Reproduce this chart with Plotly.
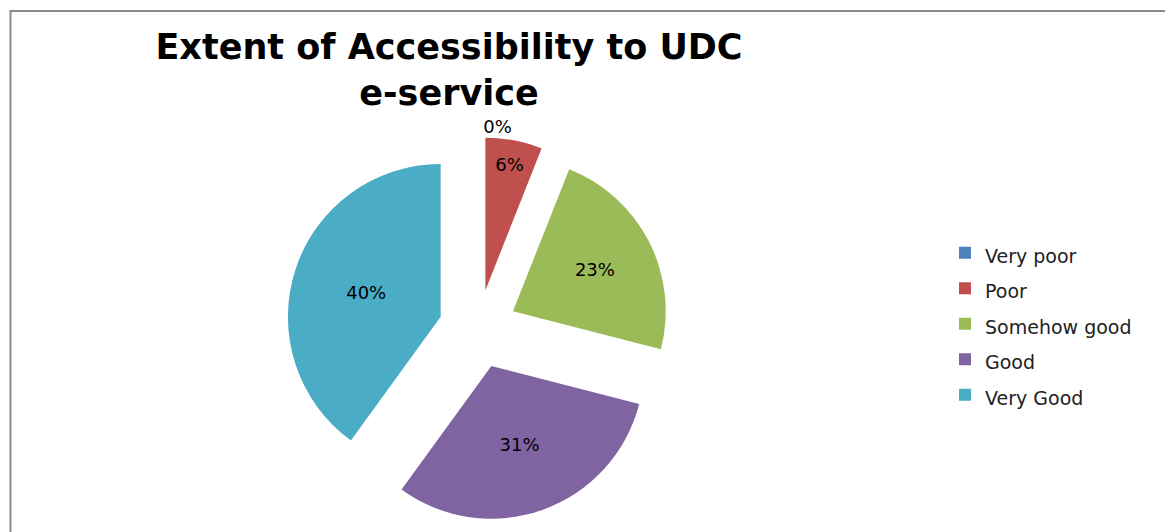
import plotly.graph_objects as go

categories = ["Very poor", "Poor", "Somehow good", "Good", "Very Good"]
percent_values = [0, 6, 23, 31, 40]
colors = ["#4F81BD", "#C0504D", "#9BBB59", "#8064A2", "#4BACC6"]
title_text = "Extent of Accessibility to UDC<br>e-service"

W, H = 1165, 532

# legend entries: slightly smaller text inside a taller legend row
legend_labels = ['<span style="font-size:19px">%s</span>' % c for c in categories]

fig = go.Figure()
fig.add_trace(go.Pie(
    labels=legend_labels,
    values=percent_values,
    marker=dict(colors=colors, line=dict(width=0)),
    sort=False,
    direction="clockwise",
    rotation=0,
    pull=[0.257] * len(categories),
    textinfo="percent",
    textposition="auto",
    insidetextfont=dict(color="black", size=18, family="DejaVu Sans"),
    outsidetextfont=dict(color="black", size=18, family="DejaVu Sans"),
    insidetextorientation="horizontal",
    domain=dict(x=[286 / W, 670 / W], y=[1 - 521 / H, 1 - 137 / H]),
    showlegend=True,
    hoverinfo="percent",
))

fig.update_layout(
    width=W, height=H,
    margin=dict(l=0, r=0, t=0, b=0, autoexpand=False),
    paper_bgcolor="white",
    plot_bgcolor="white",
    font=dict(family="DejaVu Sans", color="black"),
    title=dict(
        text=title_text,
        font=dict(family="DejaVu Sans", size=35, color="black", weight="bold"),
        x=449 / W, xanchor="center", xref="paper",
        y=1 - 59 / H, yanchor="top", yref="container",
    ),
    legend=dict(
        x=945 / W, xanchor="left", xref="paper",
        y=1 - 230 / H, yanchor="top", yref="paper",
        font=dict(family="DejaVu Sans", size=25, color="#222"),
        bgcolor="rgba(0,0,0,0)",
    ),
    shapes=[dict(
        type="rect", xref="paper", yref="paper",
        x0=10.5 / W, x1=1.02, y0=-0.02, y1=1 - 11 / H,
        line=dict(color="#8a8a8a", width=2), fillcolor="rgba(0,0,0,0)",
    )],
)

fig.write_html("out.html")
